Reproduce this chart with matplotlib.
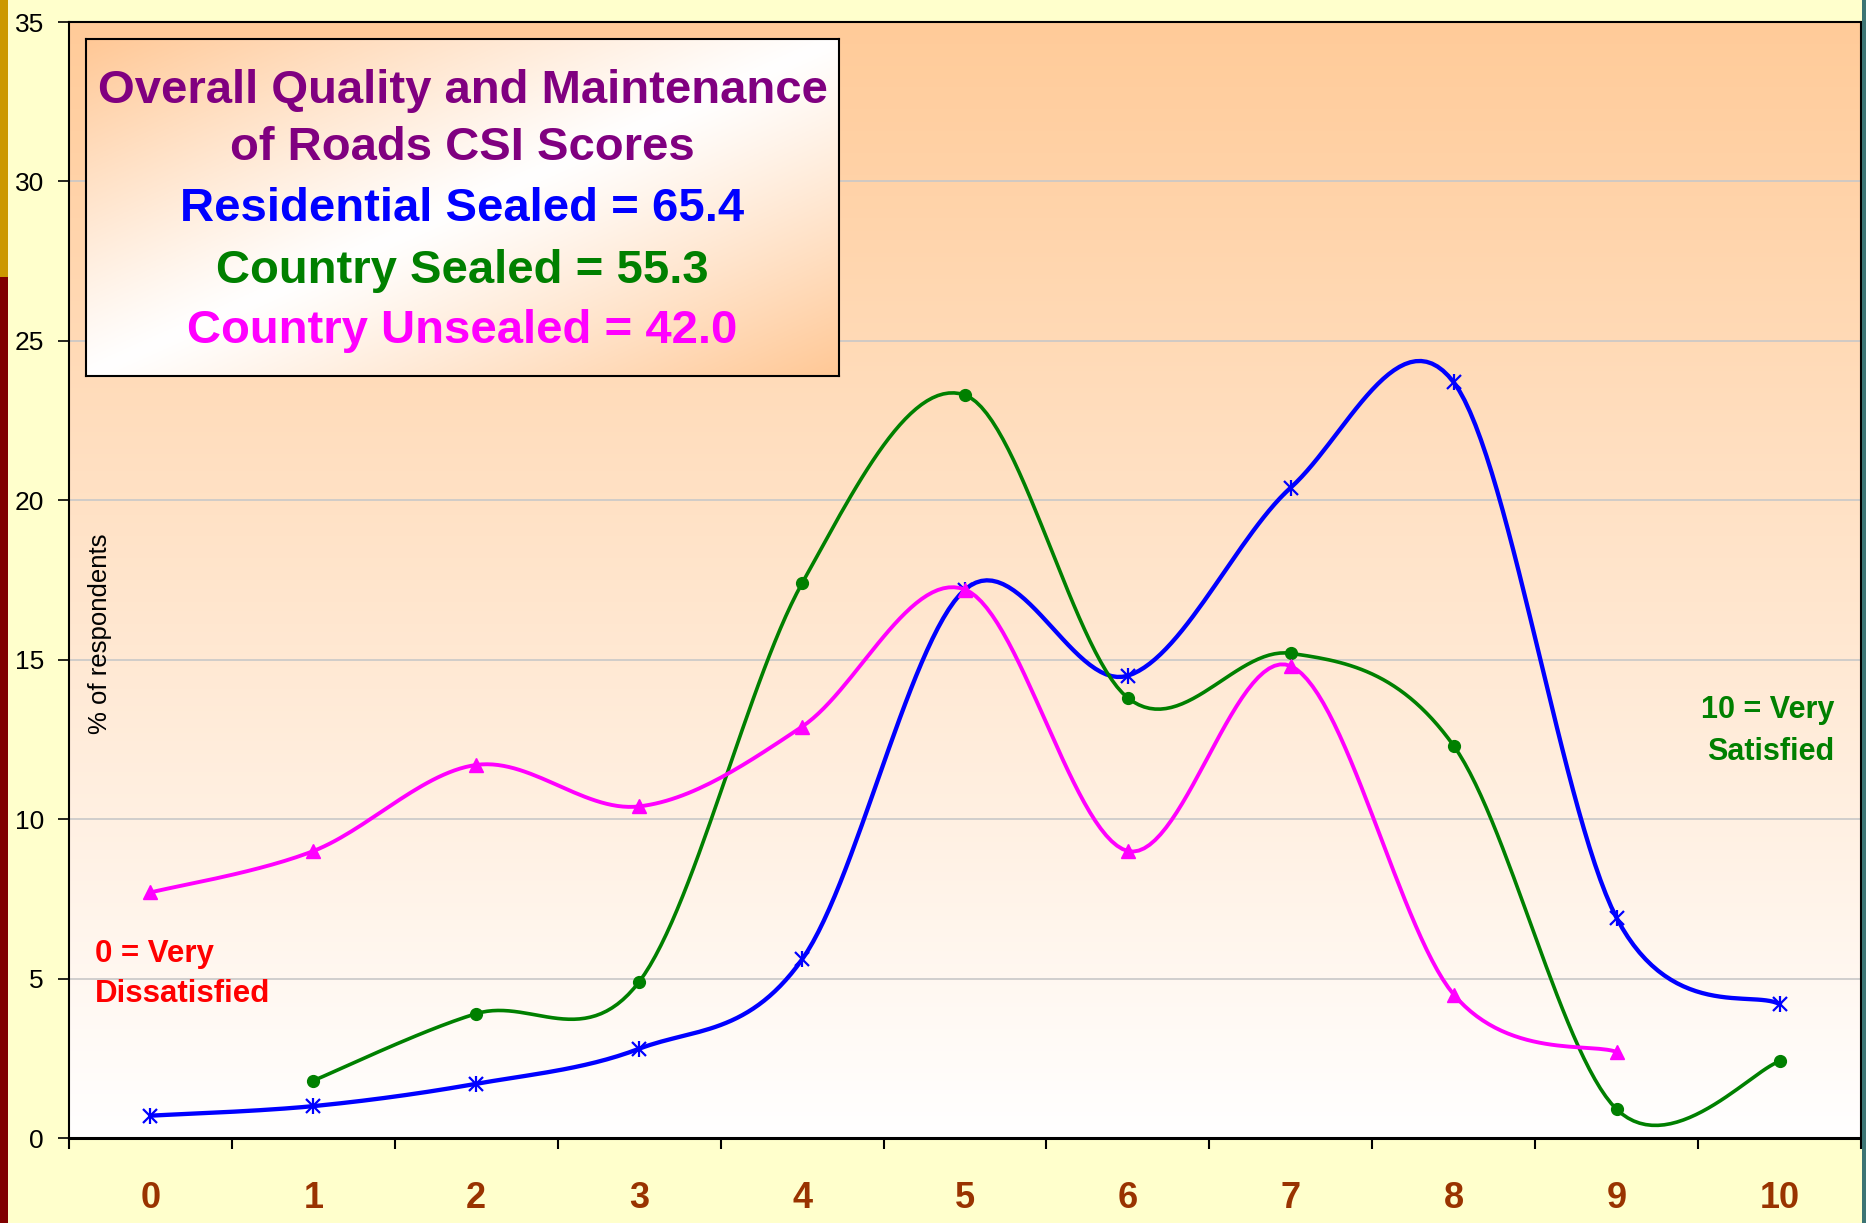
import numpy as np
import matplotlib
matplotlib.use('Agg')
from matplotlib import pyplot as plt
from matplotlib.patches import Rectangle

plt.rcParams['font.family'] = ['Liberation Sans', 'DejaVu Sans']

W, H = 1866, 1223

scores = list(range(11))
score_labels = [str(s) for s in scores]
residential_sealed = [0.7, 1.0, 1.7, 2.8, 5.6, 17.2, 14.5, 20.4, 23.7, 6.9, 4.2]
country_sealed = [np.nan, 1.8, 3.9, 4.9, 17.4, 23.3, 13.8, 15.2, 12.3, 0.9, 2.4]
country_unsealed = [7.7, 9.0, 11.7, 10.4, 12.9, 17.2, 9.0, 14.8, 4.5, 2.7, np.nan]
y_ticks = [0, 5, 10, 15, 20, 25, 30, 35]

title_lines = ['Overall Quality and Maintenance', 'of Roads CSI Scores',
               'Residential Sealed = 65.4', 'Country Sealed = 55.3',
               'Country Unsealed = 42.0']
title_colors = ['#800080', '#800080', '#0000FF', '#008000', '#FF00FF']


def smooth(xs, ys, steps=30):
    # excel style smoothed line: bezier with catmull-rom control points
    p = np.array([(x, y) for x, y in zip(xs, ys) if not np.isnan(y)], dtype=float)
    n = len(p)
    t = np.linspace(0, 1, steps + 1)[1:, None]
    out = [p[0]]
    for i in range(n - 1):
        p0 = p[max(i - 1, 0)]
        p1 = p[i]
        p2 = p[i + 1]
        p3 = p[min(i + 2, n - 1)]
        c1 = p1 + (p2 - p0) / 6
        c2 = p2 - (p3 - p1) / 6
        seg = (1 - t) ** 3 * p1 + 3 * (1 - t) ** 2 * t * c1 + 3 * (1 - t) * t ** 2 * c2 + t ** 3 * p2
        out.extend(seg)
    return np.array(out)


def px(x, y):
    return x / W, 1 - y / H


fig = plt.figure(figsize=(W / 100, H / 100), dpi=100, facecolor='#FFFFCC')

# side strips
fig.add_artist(Rectangle((0, 1 - 277 / H), 8 / W, 277 / H, transform=fig.transFigure,
                         color='#CC9900', lw=0))
fig.add_artist(Rectangle((0, 0), 8 / W, 1 - 277 / H, transform=fig.transFigure,
                         color='#800000', lw=0))
fig.add_artist(Rectangle((1862 / W, 0), 4 / W, 1, transform=fig.transFigure,
                         color='#3C7474', lw=0))

left, right, top, bottom = 69, 1861, 22, 1138
ax = fig.add_axes([left / W, 1 - bottom / H, (right - left) / W, (bottom - top) / H])
ax.set_facecolor('none')

# vertical gradient in plot area
grad = np.linspace(0, 1, 256)[:, None]
top_c = np.array([255, 203, 153]) / 255
bot_c = np.array([255, 255, 255]) / 255
img = top_c[None, None, :] * (1 - grad[:, :, None]) + bot_c[None, None, :] * grad[:, :, None]
ax.imshow(img, extent=(-0.5, 10.5, 0, 35), aspect='auto', origin='upper', zorder=-1)

ax.set_xlim(-0.5, 10.5)
ax.set_ylim(0, 35)
ax.yaxis.grid(True, color='#C8C8C8', lw=1.2)
ax.set_axisbelow(True)

s = smooth(scores, residential_sealed)
ax.plot(s[:, 0], s[:, 1], color='#0000FF', lw=3.1, zorder=3)
ax.plot(scores, residential_sealed, ls='none', marker='x', ms=10, mew=1.6, color='#0000FF', zorder=3)
ax.plot(scores, residential_sealed, ls='none', marker='|', ms=11, mew=1.6, color='#0000FF', zorder=3)

s = smooth(scores, country_sealed)
ax.plot(s[:, 0], s[:, 1], color='#008000', lw=2.6, zorder=4)
ax.plot(scores, country_sealed, ls='none', marker='o', ms=8.5, color='#008000', zorder=4)

s = smooth(scores, country_unsealed)
ax.plot(s[:, 0], s[:, 1], color='#FF00FF', lw=2.8, zorder=5)
ax.plot(scores, country_unsealed, ls='none', marker='^', ms=10.5, color='#FF00FF', zorder=5)

ax.set_xticks(scores)
ax.set_xticklabels(score_labels, fontsize=26, fontweight='bold', color='#993300')
ax.set_xticks(np.arange(-0.5, 11, 1), minor=True)
ax.tick_params(axis='x', which='major', length=0, pad=31)
ax.tick_params(axis='x', which='minor', length=8, width=1.5, direction='out')
ax.set_yticks(y_ticks)
ax.tick_params(axis='y', length=8, width=1.2, direction='out', labelsize=19, pad=10)

for side in ['top', 'right', 'left']:
    ax.spines[side].set_linewidth(1.5)
ax.spines['bottom'].set_linewidth(2.2)

fig.text(*px(100, 634), '% of respondents', rotation=90, ha='center', va='center', fontsize=18.5)

fig.text(*px(95, 962), '0 = Very', color='#FF0000', fontsize=22.5, fontweight='bold',
         ha='left', va='baseline')
fig.text(*px(95, 1002), 'Dissatisfied', color='#FF0000', fontsize=22.5, fontweight='bold',
         ha='left', va='baseline')
fig.text(*px(1834, 718), '10 = Very', color='#008000', fontsize=22, fontweight='bold',
         ha='right', va='baseline')
fig.text(*px(1834, 760), 'Satisfied', color='#008000', fontsize=22, fontweight='bold',
         ha='right', va='baseline')

# title box with diagonal gradient
bx0, by0, bx1, by1 = 86, 39, 839, 376
box = fig.add_axes([bx0 / W, 1 - by1 / H, (bx1 - bx0) / W, (by1 - by0) / H])
xx, yy = np.meshgrid(np.linspace(0, 1, 300), np.linspace(0, 1, 150))
u = np.abs(xx - yy) ** 1.1
orange = np.array([255, 200, 150]) / 255
white = np.array([1.0, 1.0, 1.0])
bimg = white[None, None, :] * (1 - u[:, :, None]) + orange[None, None, :] * u[:, :, None]
box.imshow(bimg, extent=(0, 1, 0, 1), aspect='auto', origin='lower')
box.set_xlim(0, 1)
box.set_ylim(0, 1)
box.set_xticks([])
box.set_yticks([])
for sp in box.spines.values():
    sp.set_linewidth(1.5)

baselines = [103, 160, 221, 283, 343]
for line, col, b in zip(title_lines, title_colors, baselines):
    box.text(0.5, (by1 - b) / (by1 - by0), line, color=col, fontsize=34, fontweight='bold',
             ha='center', va='baseline', transform=box.transAxes)

fig.savefig('out.png', dpi=100, facecolor=fig.get_facecolor())
